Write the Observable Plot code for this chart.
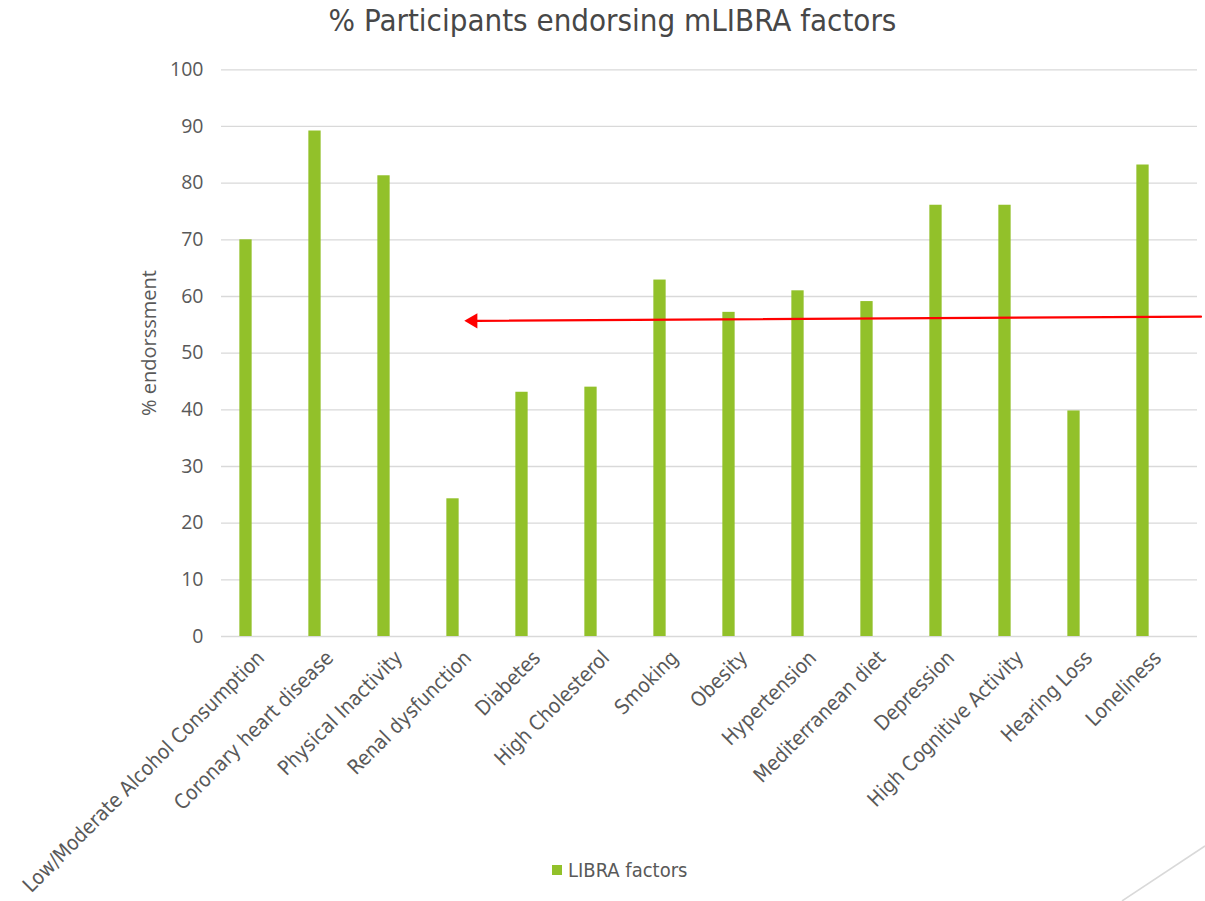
<!DOCTYPE html>
<html>
<head>
<meta charset="utf-8">
<script src="https://cdn.jsdelivr.net/npm/d3@7"></script>
<script src="https://cdn.jsdelivr.net/npm/@observablehq/plot@0.6"></script>
<style>
  html, body { margin: 0; padding: 0; background: #ffffff; }
  #page { position: relative; width: 1205px; height: 901px; overflow: hidden; background: #fff; }
  #title { position: absolute; left: 0; top: 2px; width: 1225px; text-align: center;
           font-family: "DejaVu Sans Condensed", "DejaVu Sans", sans-serif; font-stretch: condensed;
           font-size: 31px; color: #474747; white-space: nowrap; }
  #chart { position: absolute; left: 0; top: 50px; }
  #ylabel { position: absolute; left: 148px; top: 343px; transform: translate(-50%, -50%) rotate(-90deg);
            font-family: "Open Sans", sans-serif; font-size: 20px; color: #595959; white-space: nowrap; }
  #legend { position: absolute; left: 552px; top: 858px; display: flex; align-items: center;
            font-family: "DejaVu Sans Condensed", "DejaVu Sans", sans-serif; font-stretch: condensed;
            font-size: 20px; color: #595959; }
  #legend .sw { width: 10px; height: 10px; background: #92C12A; margin-right: 6px; }
  #deco { position: absolute; left: 0; top: 0; pointer-events: none; }
</style>
</head>
<body>
<div id="page">
  <div id="chart"></div>
  <div id="title"></div>
  <div id="ylabel"></div>
  <div id="legend"><div class="sw"></div><span id="legendText"></span></div>
  <svg id="deco" width="1205" height="901"><line x1="1122" y1="901" x2="1205" y2="846" stroke="#d9d9d9" stroke-width="1.5"/></svg>
</div>
<script>
// ---- data ----
const titleText = "% Participants endorsing mLIBRA factors";
const yLabel = "% endorssment";
const seriesName = "LIBRA factors";
const categories = [
  "Low/Moderate Alcohol Consumption",
  "Coronary heart disease",
  "Physical Inactivity",
  "Renal dysfunction",
  "Diabetes",
  "High Cholesterol",
  "Smoking",
  "Obesity",
  "Hypertension",
  "Mediterranean diet",
  "Depression",
  "High Cognitive Activity",
  "Hearing Loss",
  "Loneliness"
];
const values = [70, 89.2, 81.3, 24.3, 43.1, 44, 62.9, 57.2, 61, 59.1, 76.1, 76.1, 39.8, 83.2];
const yTicks = [0, 10, 20, 30, 40, 50, 60, 70, 80, 90, 100];
// annotation arrow (from right edge pointing to the left)
const arrowFrom = "Loneliness";
const arrowTo = "Renal dysfunction";
const arrowYs = [56.4, 55.7];

// ---- build ----
document.getElementById("title").textContent = titleText;
document.getElementById("ylabel").textContent = yLabel;
document.getElementById("legendText").textContent = seriesName;

const data = categories.map((c, i) => ({category: c, value: values[i]}));
const arrowData = [{x1: arrowFrom, x2: arrowTo, y1: arrowYs[0], y2: arrowYs[1]}];

const barColor = "#92C12A";
const textColor = "#595959";
const gridColor = "#d9d9d9";
const catFont = '"DejaVu Sans Condensed", "DejaVu Sans", sans-serif';

const chart = Plot.plot({
  width: 1205,
  height: 851,
  marginLeft: 221,
  marginRight: 8,
  marginTop: 19.3,
  marginBottom: 265,
  style: {background: "transparent", color: textColor, overflow: "visible"},
  x: {domain: categories, padding: 0},
  y: {domain: [0, 100]},
  marks: [
    Plot.gridY(yTicks, {stroke: gridColor, strokeOpacity: 1, strokeWidth: 1.3}),
    Plot.axisY(yTicks, {
      tickSize: 0, tickPadding: 18, label: null,
      fontSize: 19.5, fontFamily: '"Open Sans", sans-serif', fill: textColor
    }),
    Plot.axisX({
      tickSize: 0, tickPadding: 18, tickRotate: -45, label: null,
      fontSize: 20.5, fontFamily: catFont, fill: textColor
    }),
    Plot.barY(data, {
      x: "category", y: "value", fill: barColor,
      insetLeft: 28.35, insetRight: 28.35, dx: -15
    }),
    Plot.arrow(arrowData, {
      x1: "x1", x2: "x2", y1: "y1", y2: "y2",
      stroke: "#ff0000", strokeWidth: 2.2, headLength: 0,
      insetStart: -43, insetEnd: 9
    }),
    Plot.dot(arrowData, {
      x: "x2", y: "y2", symbol: "triangle", r: 5.6, rotate: -90,
      fill: "#ff0000", stroke: "none", dx: 5
    })
  ]
});
document.getElementById("chart").appendChild(chart);
</script>
</body>
</html>
